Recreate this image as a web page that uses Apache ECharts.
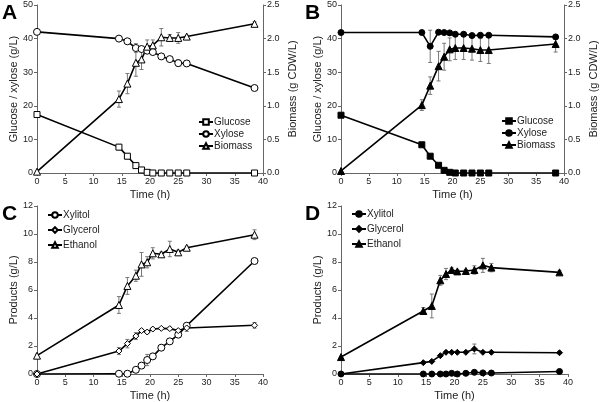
<!DOCTYPE html>
<html>
<head>
<meta charset="utf-8">
<script src="https://cdn.jsdelivr.net/npm/echarts@6/dist/echarts.min.js"></script>
<style>
  html, body { margin: 0; padding: 0; background: #fff; }
  #main { width: 600px; height: 402px; }
</style>
</head>
<body>
<div id="main"></div>
<script>
// sampling times (h), same for every panel
const time = [0, 14.5, 16, 17.5, 18.5, 19.5, 20.5, 22, 23.5, 25, 26.5, 38.5]

// A
const glucoseA = [17.4, 7.7, 5.0, 2.2, 0.9, 0.2, 0, 0, 0, 0, 0, 0]
const glucoseAErr = [0, 0.8, 0.8, 0.5, 0, 0, 0, 0, 0, 0, 0, 0]
const xyloseA = [42.0, 40.0, 39.2, 37.2, 36.9, 36.4, 36.0, 34.7, 33.9, 32.7, 32.6, 25.3]
const xyloseAErr = [0, 0, 0, 1.3, 0.5, 0.8, 0, 0, 0, 1.0, 0, 0]
const biomassA = [0.02, 1.10, 1.33, 1.64, 1.69, 1.88, 1.90, 2.02, 2.01, 2.01, 2.03, 2.22]
const biomassAErr = [0, 0.12, 0.15, 0.2, 0.15, 0.1, 0.08, 0.13, 0.05, 0.08, 0.02, 0.03]

// B
const glucoseB = [17.2, 8.4, 5.0, 2.3, 0.8, 0.2, 0, 0, 0, 0, 0, 0]
const glucoseBErr = [0, 0.3, 0, 0, 0, 0, 0, 0, 0, 0, 0, 0]
const xyloseB = [41.8, 41.8, 37.7, 41.9, 41.8, 41.7, 41.3, 41.3, 40.9, 41.0, 41.0, 40.5]
const xyloseBErr = [0, 0, 4.8, 0.3, 0, 0, 0, 0, 0, 0, 0, 0]
const biomassB = [0.03, 1.01, 1.30, 1.59, 1.73, 1.84, 1.86, 1.86, 1.85, 1.83, 1.83, 1.92]
const biomassBErr = [0, 0.08, 0.13, 0.22, 0.2, 0.17, 0.17, 0.17, 0.17, 0.17, 0.2, 0.12]

// C
const xylitolC = [0, 0.02, 0.02, 0.3, 0.6, 1.0, 1.26, 1.88, 2.33, 2.81, 3.45, 8.07]
const xylitolCErr = [0, 0, 0, 0, 0, 0.4, 0.1, 0, 0, 0, 0, 0]
const glycerolC = [0, 1.64, 2.17, 2.71, 3.1, 3.0, 3.21, 3.26, 3.24, 3.1, 3.29, 3.48]
const glycerolCErr = [0, 0.25, 0.3, 0.25, 0.1, 0.1, 0.1, 0.05, 0.1, 0.1, 0.25, 0.2]
const ethanolC = [1.31, 4.93, 6.29, 7.02, 7.83, 7.98, 8.62, 8.55, 8.93, 8.69, 9.02, 9.95]
const ethanolCErr = [0.1, 0.6, 0.6, 0.4, 0.85, 0.4, 0.4, 0.15, 0.55, 0.15, 0.1, 0.35]

// D
const xylitolD = [0, 0, 0, 0, 0, 0.05, 0, 0.05, 0.12, 0.08, 0.07, 0.18]
const glycerolD = [0, 0.81, 0.9, 1.31, 1.55, 1.55, 1.55, 1.55, 1.79, 1.55, 1.55, 1.52]
const glycerolDErr = [0, 0, 0, 0, 0, 0, 0, 0, 0.35, 0, 0, 0]
const ethanolD = [1.21, 4.5, 4.86, 6.69, 7.14, 7.43, 7.33, 7.36, 7.43, 7.76, 7.6, 7.26]
const ethanolDErr = [0, 0.25, 0.85, 0.35, 0.4, 0.15, 0.1, 0.1, 0.3, 0.5, 0.3, 0.1]

const font = 'Liberation Sans, Arial, sans-serif'
const axisCol = '#666'
const txtCol = '#222'

const grids = [
  { left: 37, top: 5, width: 226, height: 168 },
  { left: 341, top: 5, width: 227, height: 168 },
  { left: 37, top: 206, width: 226, height: 168 },
  { left: 341, top: 206, width: 227, height: 168 }
]

const axisLine = { show: true, lineStyle: { color: axisCol, width: 1 } }
const axisTick = { show: true, length: 3, lineStyle: { color: axisCol } }
const axisLabel = { color: txtCol, fontSize: 9, fontFamily: font, margin: 4 }
const nameStyle = { color: txtCol, fontSize: 11, fontFamily: font }

const xAxes = grids.map((g, i) => ({
  type: 'value', gridIndex: i, min: 0, max: 40, interval: 5,
  name: 'Time (h)', nameLocation: 'middle', nameGap: 16, nameTextStyle: nameStyle,
  axisLine, axisTick, axisLabel, splitLine: { show: false }
}))

const leftY = (i, max, interval, name, gap) => ({
  type: 'value', gridIndex: i, min: 0, max: max, interval: interval, position: 'left',
  name: name, nameLocation: 'middle', nameGap: gap, nameTextStyle: nameStyle,
  axisLine, axisTick, axisLabel, splitLine: { show: false }
})
const rightY = (i) => ({
  type: 'value', gridIndex: i, min: 0, max: 2.5, interval: 0.5, position: 'right',
  name: 'Biomass (g CDW/L)', nameLocation: 'middle', nameGap: 24, nameTextStyle: nameStyle,
  axisLine, axisTick, axisLabel: Object.assign({}, axisLabel, { formatter: v => v.toFixed(1) }),
  splitLine: { show: false }
})

const yAxes = [
  leftY(0, 50, 10, 'Glucose / xylose (g/L)', 17),
  rightY(0),
  leftY(1, 50, 10, 'Glucose / xylose (g/L)', 17),
  rightY(1),
  leftY(2, 12, 2, 'Products (g/L)', 17),
  leftY(3, 12, 2, 'Products (g/L)', 17)
]

const series = []
function line(name, data, xi, yi, symbol, size, filled) {
  series.push({
    name: name, type: 'line', xAxisIndex: xi, yAxisIndex: yi,
    data: time.map((t, k) => [t, data[k]]),
    symbol: symbol, symbolSize: size, showAllSymbol: true,
    lineStyle: { color: '#000', width: 1.6 },
    itemStyle: { color: filled ? '#000' : '#fff', borderColor: '#000', borderWidth: 1 },
    z: 3
  })
}
function errs(data, err, xi, yi) {
  const d = []
  time.forEach((t, k) => { if (err[k] > 0) d.push([t, data[k] - err[k], data[k] + err[k]]) })
  series.push({
    type: 'custom', xAxisIndex: xi, yAxisIndex: yi, data: d, z: 2, silent: true,
    renderItem: (params, api) => {
      const lo = api.coord([api.value(0), api.value(1)])
      const hi = api.coord([api.value(0), api.value(2)])
      const st = { stroke: '#777', lineWidth: 1 }
      return {
        type: 'group', children: [
          { type: 'line', shape: { x1: lo[0], y1: lo[1], x2: hi[0], y2: hi[1] }, style: st },
          { type: 'line', shape: { x1: lo[0] - 2, y1: lo[1], x2: lo[0] + 2, y2: lo[1] }, style: st },
          { type: 'line', shape: { x1: hi[0] - 2, y1: hi[1], x2: hi[0] + 2, y2: hi[1] }, style: st }
        ]
      }
    }
  })
}

// A
errs(glucoseA, glucoseAErr, 0, 0)
errs(xyloseA, xyloseAErr, 0, 0)
errs(biomassA, biomassAErr, 0, 1)
line('Glucose_A', glucoseA, 0, 0, 'rect', 6, false)
line('Xylose_A', xyloseA, 0, 0, 'circle', 7, false)
line('Biomass_A', biomassA, 0, 1, 'triangle', 7, false)
// B
errs(glucoseB, glucoseBErr, 1, 2)
errs(xyloseB, xyloseBErr, 1, 2)
errs(biomassB, biomassBErr, 1, 3)
line('Glucose_B', glucoseB, 1, 2, 'rect', 6, true)
line('Xylose_B', xyloseB, 1, 2, 'circle', 6, true)
line('Biomass_B', biomassB, 1, 3, 'triangle', 7, true)
// C
errs(xylitolC, xylitolCErr, 2, 4)
errs(glycerolC, glycerolCErr, 2, 4)
errs(ethanolC, ethanolCErr, 2, 4)
line('Xylitol_C', xylitolC, 2, 4, 'circle', 7, false)
line('Glycerol_C', glycerolC, 2, 4, 'diamond', 6, false)
line('Ethanol_C', ethanolC, 2, 4, 'triangle', 7, false)
// D
errs(glycerolD, glycerolDErr, 3, 5)
errs(ethanolD, ethanolDErr, 3, 5)
line('Xylitol_D', xylitolD, 3, 5, 'circle', 6, true)
line('Glycerol_D', glycerolD, 3, 5, 'diamond', 6, true)
line('Ethanol_D', ethanolD, 3, 5, 'triangle', 7, true)

const legendBase = {
  orient: 'vertical', itemWidth: 14, itemHeight: 7, itemGap: 2,
  textStyle: { color: txtCol, fontSize: 10, fontFamily: font, padding: [0, 0, 0, -4] },
  formatter: n => n.split('_')[0], selectedMode: false, padding: 0
}
const legends = [
  Object.assign({}, legendBase, { left: 198, top: 117, data: ['Glucose_A', 'Xylose_A', 'Biomass_A'] }),
  Object.assign({}, legendBase, { left: 501, top: 116, data: ['Glucose_B', 'Xylose_B', 'Biomass_B'] }),
  Object.assign({}, legendBase, { left: 47, top: 210, itemGap: 5, data: ['Xylitol_C', 'Glycerol_C', 'Ethanol_C'] }),
  Object.assign({}, legendBase, { left: 351, top: 209, itemGap: 5, data: ['Xylitol_D', 'Glycerol_D', 'Ethanol_D'] })
]

const letter = (t, x, y) => ({
  type: 'text', left: x, top: y,
  style: { text: t, fontSize: 21, fontWeight: 'bold', fontFamily: font, fill: '#000' }
})

const chart = echarts.init(document.getElementById('main'))
chart.setOption({
  animation: false,
  backgroundColor: '#fff',
  grid: grids,
  xAxis: xAxes,
  yAxis: yAxes,
  legend: legends,
  series: series,
  graphic: [letter('A', 2, 3), letter('B', 305, 3), letter('C', 2, 204), letter('D', 305, 204)]
})
</script>
</body>
</html>
